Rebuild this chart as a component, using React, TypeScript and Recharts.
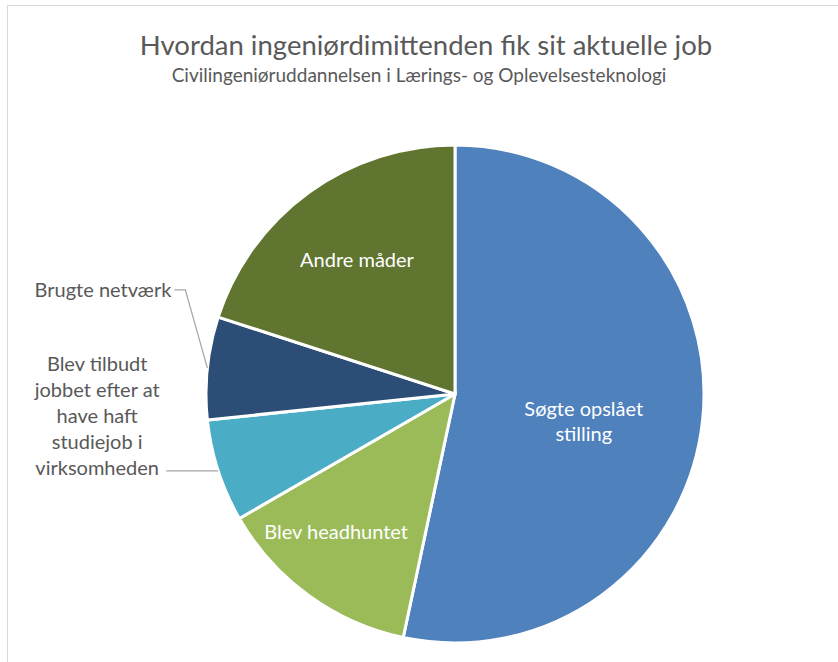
import React from "react";
import { Cell, Pie, PieChart } from "recharts";

const categories = [
  "Søgte opslået stilling",
  "Blev headhuntet",
  "Blev tilbudt jobbet efter at have haft studiejob i virksomheden",
  "Brugte netværk",
  "Andre måder",
];
const counts = [16, 4, 2, 2, 6];
const colors = ["#4F81BD", "#9BBB59", "#4BACC6", "#2C4D75", "#5F7530"];

const data = categories.map((name, i) => ({ name, value: counts[i] }));

const RAD = Math.PI / 180;
const FONT = "Lato, 'Open Sans', sans-serif";
const GREY = "#595959";
const LABEL_SIZE = 20;

function polar(cx: number, cy: number, r: number, angle: number) {
  return { x: cx + r * Math.cos(-angle * RAD), y: cy + r * Math.sin(-angle * RAD) };
}

// inside labels: split lines + radius fraction + small nudge
const inside: Record<number, { lines: string[]; frac: number; dx: number; dy: number }> = {
  0: { lines: ["Søgte opslået", "stilling"], frac: 0.52, dx: 0, dy: 13 },
  1: { lines: ["Blev headhuntet"], frac: 0.73, dx: -12, dy: -10 },
  4: { lines: ["Andre måder"], frac: 0.67, dx: 0, dy: 0 },
};

function renderLabel(props: any) {
  const { cx, cy, midAngle, outerRadius, index } = props;
  const inn = inside[index];
  if (inn) {
    const p = polar(cx, cy, outerRadius * inn.frac, midAngle);
    const lh = 25;
    const x = p.x + inn.dx;
    const y0 = p.y + inn.dy - ((inn.lines.length - 1) * lh) / 2;
    return (
      <text x={x} y={y0} fill="#ffffff" fontSize={LABEL_SIZE} fontFamily={FONT} textAnchor="middle" dominantBaseline="central">
        {inn.lines.map((l, k) => (
          <tspan key={k} x={x} y={y0 + k * lh}>{l}</tspan>
        ))}
      </text>
    );
  }
  const edge = polar(cx, cy, outerRadius, midAngle);
  if (index === 3) {
    // Brugte netværk: elbow leader
    const elbow = { x: edge.x - 22, y: edge.y - 78 };
    const end = { x: elbow.x - 11, y: elbow.y };
    return (
      <g>
        <polyline points={`${edge.x},${edge.y} ${elbow.x},${elbow.y} ${end.x},${end.y}`} fill="none" stroke="#a6a6a6" strokeWidth={1.2} />
        <text x={end.x - 3} y={end.y - 1} fill={GREY} fontSize={LABEL_SIZE} fontFamily={FONT} textAnchor="end" dominantBaseline="central">
          Brugte netværk
        </text>
      </g>
    );
  }
  // Blev tilbudt...
  const end = { x: edge.x - 52, y: edge.y };
  const lines = ["Blev tilbudt", "jobbet efter at", "have haft", "studiejob i", "virksomheden"];
  const lh = 26;
  const tx = end.x - 69;
  const yLast = end.y - 4;
  return (
    <g>
      <line x1={edge.x} y1={edge.y} x2={end.x} y2={end.y} stroke="#a6a6a6" strokeWidth={1.2} />
      <text fill={GREY} fontSize={LABEL_SIZE} fontFamily={FONT} textAnchor="middle" dominantBaseline="central">
        {lines.map((l, k) => (
          <tspan key={k} x={tx} y={yLast - (lines.length - 1 - k) * lh}>{l}</tspan>
        ))}
      </text>
    </g>
  );
}

export default function App() {
  return (
    <div style={{ position: "fixed", left: 0, top: 0, width: 838, height: 662, overflow: "hidden", background: "#fff" }}>
      <div style={{ position: "absolute", left: 7, top: 5, width: 900, height: 700, borderLeft: "1.5px solid #d9d9d9", borderTop: "1.5px solid #d9d9d9" }} />
      <div style={{ position: "absolute", left: 7, width: 838, top: 28, textAlign: "center", fontFamily: FONT, fontSize: 27.5, color: GREY, lineHeight: "34px" }}>
        Hvordan ingeniørdimittenden fik sit aktuelle job
      </div>
      <div style={{ position: "absolute", left: 0, width: 838, top: 63, textAlign: "center", fontFamily: FONT, fontSize: 19, color: GREY, lineHeight: "24px" }}>
        Civilingeniøruddannelsen i Lærings- og Oplevelsesteknologi
      </div>
      <div style={{ position: "absolute", left: 0, top: 0 }}>
        <PieChart width={838} height={662} margin={{ top: 0, right: 0, bottom: 0, left: 0 }}>
          <Pie
            data={data}
            dataKey="value"
            nameKey="name"
            cx={455}
            cy={394}
            outerRadius={249}
            startAngle={90}
            endAngle={-270}
            stroke="#ffffff"
            strokeWidth={3}
            label={renderLabel}
            labelLine={false}
            isAnimationActive={false}
          >
            {data.map((d, i) => (
              <Cell key={d.name} fill={colors[i]} />
            ))}
          </Pie>
        </PieChart>
      </div>
    </div>
  );
}
